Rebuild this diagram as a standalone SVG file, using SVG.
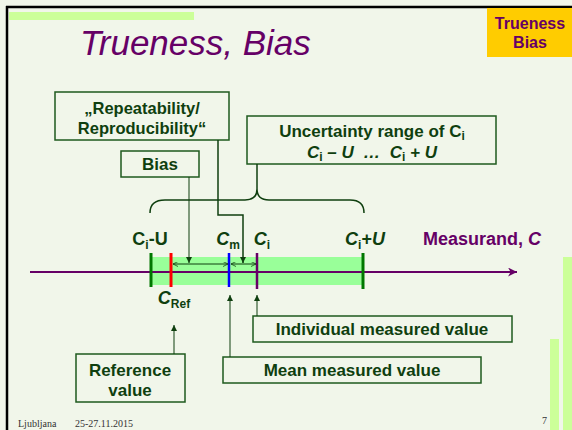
<svg xmlns="http://www.w3.org/2000/svg" width="572" height="430" viewBox="0 0 572 430">
<defs>
<style>
.box{fill:#F1F6EA;stroke:#1E5A1E;stroke-width:1.5}
.t{font-family:"Liberation Sans",Arial,sans-serif;font-weight:bold;fill:#0F3F0F;text-anchor:middle}
.ln{fill:none;stroke:#0F3F0F;stroke-width:1.5}
.thin{fill:none;stroke:#0F3F0F;stroke-width:1}
.foot{font-family:"Liberation Serif","Times New Roman",serif;font-size:10px;fill:#333}
</style>
<marker id="ah" viewBox="0 0 10 10" refX="10" refY="5" markerWidth="6" markerHeight="7" orient="auto" markerUnits="userSpaceOnUse"><path d="M0,0 L10,5 L0,10 Z" fill="#0F3F0F"/></marker>
<marker id="sh" viewBox="0 0 10 10" refX="10" refY="5" markerWidth="6" markerHeight="5" orient="auto-start-reverse" markerUnits="userSpaceOnUse"><path d="M0,0 L10,5 L0,10" fill="none" stroke="#0F3F0F" stroke-width="1.5"/></marker>
<marker id="pa" viewBox="0 0 10 10" refX="10" refY="5" markerWidth="11" markerHeight="9" orient="auto" markerUnits="userSpaceOnUse"><path d="M0,0 L10,5 L0,10 L3,5 Z" fill="#660066"/></marker>
</defs>
<rect width="572" height="430" fill="#F1F6EA"/>
<rect x="9" y="12" width="185" height="8" fill="#CCFF99"/>
<rect x="563" y="257" width="9" height="173" fill="#CCFF99"/>
<rect x="550" y="339" width="9" height="91" fill="#CCFF99"/>
<line x1="6" y1="7" x2="572" y2="7" stroke="#000" stroke-width="2.5"/>
<line x1="7" y1="6" x2="7" y2="430" stroke="#000" stroke-width="2.5"/>
<g id="corner">
<rect x="487" y="8" width="85" height="49" fill="#FFCC00"/>
<text x="530" y="29" font-family="Liberation Sans,Arial,sans-serif" font-weight="bold" font-size="16" fill="#660066" text-anchor="middle">Trueness</text>
<text x="530" y="48" font-family="Liberation Sans,Arial,sans-serif" font-weight="bold" font-size="16" fill="#660066" text-anchor="middle">Bias</text>
</g>
<text id="title" x="80" y="55" font-family="Liberation Sans,Arial,sans-serif" font-style="italic" font-size="35" fill="#660066">Trueness, Bias</text>

<g id="scale">
<rect x="151" y="257" width="212" height="28" fill="#99FF99"/>
<line x1="30" y1="272" x2="517" y2="272" stroke="#660066" stroke-width="2" marker-end="url(#pa)"/>
<line x1="151" y1="253" x2="151" y2="287" stroke="#007700" stroke-width="3"/>
<line x1="171" y1="253" x2="171" y2="287" stroke="#FF0000" stroke-width="3"/>
<line x1="229" y1="253" x2="229" y2="287" stroke="#0000FF" stroke-width="2.5"/>
<line x1="257" y1="253" x2="257" y2="289" stroke="#660066" stroke-width="2.5"/>
<line x1="363" y1="253" x2="363" y2="289" stroke="#007700" stroke-width="3"/>
</g>

<g id="labels">
<text x="150" y="245" class="t" font-size="18">C<tspan font-size="12" dy="4">i</tspan><tspan dy="-4">-U</tspan></text>
<text x="228" y="245" class="t" font-size="18"><tspan font-style="italic">C</tspan><tspan font-size="12" dy="4">m</tspan></text>
<text x="262" y="245" class="t" font-size="18"><tspan font-style="italic">C</tspan><tspan font-size="12" dy="4">i</tspan></text>
<text x="365" y="245" class="t" font-size="18"><tspan font-style="italic">C</tspan><tspan font-size="12" dy="4">i</tspan><tspan dy="-4">+</tspan><tspan font-style="italic">U</tspan></text>
<text x="423" y="245" font-family="Liberation Sans,Arial,sans-serif" font-weight="bold" font-size="18" fill="#660066" text-anchor="start">Measurand, <tspan font-style="italic">C</tspan></text>
<text x="174" y="304" class="t" font-size="18"><tspan font-style="italic">C</tspan><tspan font-size="12" dy="4">Ref</tspan></text>
</g>

<g id="n-repro">
<rect class="box" x="55" y="92" width="174" height="48"/>
<text class="t" x="142" y="114" font-size="16.5">„Repeatability/</text>
<text class="t" x="142" y="134" font-size="16.5">Reproducibility“</text>
</g>
<g id="n-bias">
<rect class="box" x="121" y="151" width="78" height="26"/>
<text class="t" x="160" y="170" font-size="17">Bias</text>
</g>
<g id="n-unc">
<rect class="box" x="247" y="116" width="249" height="48"/>
<text class="t" x="372" y="137" font-size="17">Uncertainty range of C<tspan font-size="12" dy="3">i</tspan></text>
<text class="t" x="372" y="158" font-size="17" xml:space="preserve"><tspan font-style="italic">C</tspan><tspan font-size="12" dy="3">i</tspan><tspan dy="-3" font-style="italic"> – U  …  C</tspan><tspan font-size="12" dy="3">i</tspan><tspan dy="-3" font-style="italic"> + U</tspan></text>
</g>
<g id="n-ref">
<rect class="box" x="76" y="354" width="109" height="48"/>
<text class="t" x="130" y="376" font-size="17">Reference</text>
<text class="t" x="130" y="396" font-size="17">value</text>
</g>
<g id="n-mean">
<rect class="box" x="223" y="357" width="258" height="26"/>
<text class="t" x="352" y="376" font-size="17">Mean measured value</text>
</g>
<g id="n-indiv">
<rect class="box" x="253" y="316" width="259" height="26"/>
<text class="t" x="382" y="335" font-size="17">Individual measured value</text>
</g>

<g id="connectors">
<line class="ln" x1="257" y1="164" x2="257" y2="189"/>
<path class="ln" d="M150,213 Q150,200 165,200 L245,200 Q257,200 257,189 Q257,200 269,200 L350,200 Q364,200 364,213"/>
<line class="thin" x1="189" y1="177" x2="189" y2="263" marker-end="url(#ah)"/>
<path class="ln" d="M218,140 L218,215 L243,215 L243,263" marker-end="url(#ah)"/>
<line class="thin" x1="173" y1="264" x2="228" y2="264" marker-start="url(#sh)" marker-end="url(#sh)"/>
<line class="thin" x1="231" y1="264" x2="256" y2="264" marker-start="url(#sh)" marker-end="url(#sh)"/>
<line class="thin" x1="174" y1="354" x2="174" y2="325" marker-end="url(#ah)"/>
<line class="thin" x1="230" y1="357" x2="230" y2="295" marker-end="url(#ah)"/>
<line class="thin" x1="257" y1="316" x2="257" y2="295" marker-end="url(#ah)"/>
</g>

<text class="foot" x="18" y="427">Ljubljana</text>
<text class="foot" x="75" y="427">25-27.11.2015</text>
<text class="foot" x="542" y="424" font-family="Liberation Sans,Arial,sans-serif" font-size="9">7</text>
</svg>
